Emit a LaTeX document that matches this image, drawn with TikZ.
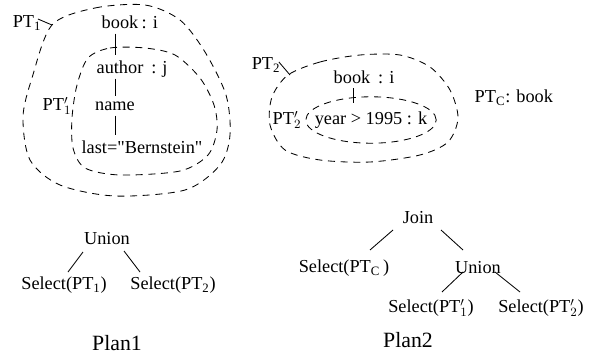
\documentclass[tikz,border=0pt]{standalone}
\usepackage{fontspec}
\setmainfont{Liberation Serif}
\usetikzlibrary{calc}
\newcommand{\primesub}[1]{$^{\prime}_{#1}$}
\tikzset{
  region/.style={dash pattern=on 5pt off 4pt, line width=0.6pt},
  lbl/.style={inner sep=1pt},
  edge/.style={line width=0.6pt},
  treeline/.style={edge, shorten <=2.5pt, shorten >=2.5pt},
}
\begin{document}
\begin{tikzpicture}[x=0.025cm,y=-0.025cm,font=\fontsize{13}{15}\selectfont]
\useasboundingbox (0,0) rectangle (590,354);
% pattern tree PT1
\node[lbl] (book1) at (120,22) {book};
\node[lbl,anchor=base west] at (book1.base east) {: i};
\node[lbl] (author1) at (120,67) {author};
\node[lbl,anchor=base west] at (author1.base east) {\ : j};
\node[lbl] (name1) at (115,106) {name};
\node[lbl] (last1) at (142,147) {last=\textquotedbl Bernstein\textquotedbl};
\draw[treeline] (name1.north |- book1.south) -- (name1.north |- author1.north);
\draw[treeline] (name1.north |- author1.south) -- (name1.north);
\draw[treeline] (name1.south) -- (name1.south |- last1.north);
\node[lbl] (pt1) at (27,23) {PT\textsubscript{1}};
\node[lbl] (pt1i) at (57,106) {PT\primesub{1}};
\coordinate (c1) at (52,25);
\draw[edge] (pt1.east) ++(-5,-4) -- (c1);
\draw[region] plot[smooth cycle] coordinates {(52,25) (95,8) (145,5) (180,20) (205,52)
  (226,95) (230,135) (220,165) (185,190) (115,196) (60,185) (30,160) (23,117) (32,78)};
\draw[region] plot[smooth cycle] coordinates {(88,58) (110,48) (145,48) (175,55) (200,78)
  (214,105) (217,130) (208,155) (180,171) (120,175) (85,168) (73,148) (72,118) (77,85)};
% pattern tree PT2
\node[lbl] (book2) at (352,77) {book};
\node[lbl,anchor=base west] at (book2.base east) {\ : i};
\node[lbl] (year2) at (371,120) {year > 1995 : k};
\node[lbl] (pt2) at (266,65) {PT\textsubscript{2}};
\node[lbl] (pt2i) at (287,120) {PT\primesub{2}};
\node[lbl,anchor=west] (ptc) at (473,98) {PT\textsubscript{C}: book};
\coordinate (c2) at (290,75);
\coordinate (tick2) at (353,103);
\draw[edge] (pt2.east) ++(-3,-3) -- (c2);
\draw[edge] (tick2 |- book2.south) ++(0,3) -- (tick2);
\draw[region] plot[smooth cycle] coordinates {(288,75) (320,62) (360,55) (400,55) (430,67)
  (450,90) (458,118) (448,142) (420,155) (370,162) (320,160) (285,150) (270,125) (272,97)};
\draw[region] (year2.center) ellipse [x radius=1.63cm, y radius=0.58cm];
% Plan1
\node[lbl] (union1) at (107,239) {Union};
\node[lbl] (sel11) at (64,285) {Select(PT\textsubscript{1})};
\node[lbl] (sel12) at (173,285) {Select(PT\textsubscript{2})};
\draw[edge] ($(union1)+(-24,13)$) -- ($(sel11)+(4,-13)$);
\draw[edge] ($(union1)+(17,12)$) -- ($(sel12)+(-33,-13)$);
\node[lbl,font=\fontsize{15.5}{18}\selectfont] (plan1) at (117,343) {Plan1};
% Plan2
\node[lbl] (join2) at (418,218) {Join};
\node[lbl] (selc) at (344,268) {Select(PT\textsubscript{C}\,)};
\node[lbl] (union2) at (478,268) {Union};
\node[lbl] (sel21) at (431,308) {Select(PT\primesub{1})};
\node[lbl] (sel22) at (541,308) {Select(PT\primesub{2})};
\draw[edge] ($(join2)+(-25,12)$) -- ($(selc)+(26,-18)$);
\draw[edge] ($(join2)+(23,12)$) -- ($(union2)+(-15,-18)$);
\draw[edge] ($(union2)+(-15,4)$) -- ($(sel21)+(11,-16)$);
\draw[edge] ($(union2)+(17,4)$) -- ($(sel22)+(-21,-16)$);
\node[lbl,font=\fontsize{15.5}{18}\selectfont] (plan2) at (408,340) {Plan2};
\end{tikzpicture}
\end{document}
